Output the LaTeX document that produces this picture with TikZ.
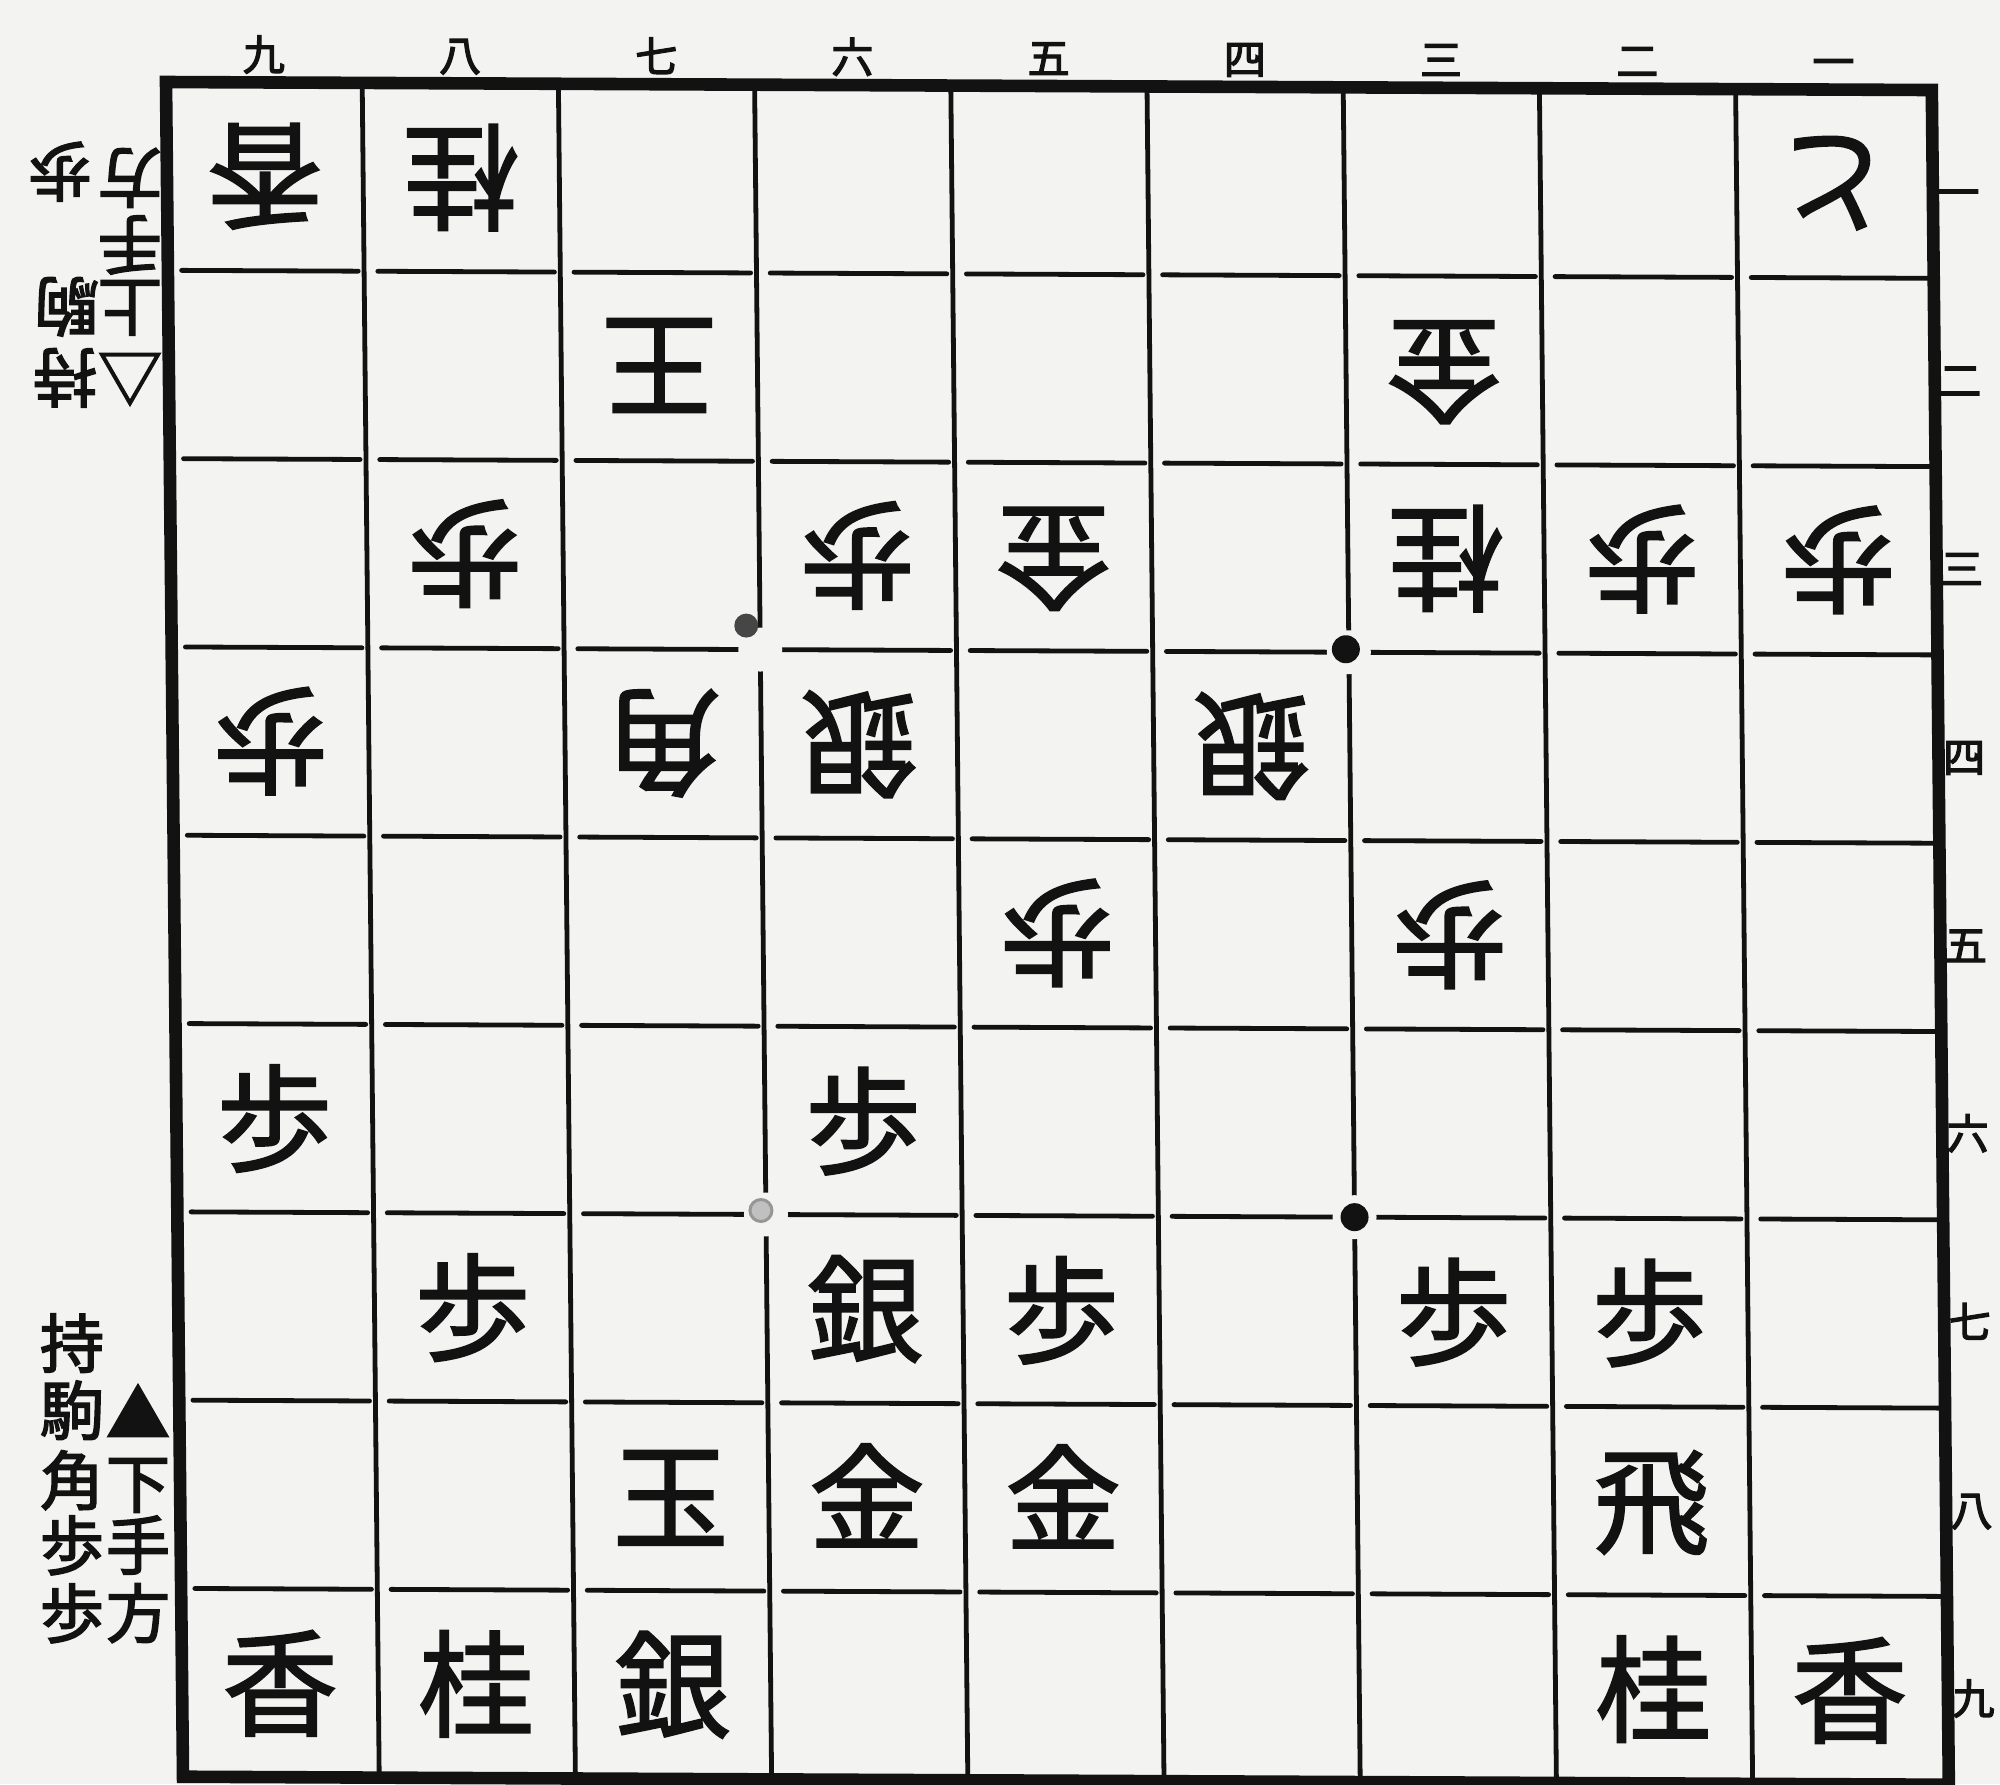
\documentclass[tikz,border=0pt]{standalone}
\usepackage{fontspec}
\newfontfamily\jp[RawFeature={embolden=1.6}]{Noto Sans CJK JP}
\newfontfamily\jplab[RawFeature={embolden=3}]{Noto Sans CJK JP}
\newfontfamily\jpside[RawFeature={embolden=2.6}]{Noto Sans CJK JP}
\definecolor{bg}{RGB}{243,243,241}
\definecolor{ink}{RGB}{18,18,18}
\definecolor{dotgray}{RGB}{70,70,70}
\definecolor{ringgray}{RGB}{150,150,150}
\tikzset{
  piece/.style={font=\jp\fontsize{58}{58}\selectfont, inner sep=0pt, text height=51pt, text depth=7pt, text=ink},
  gote/.style={piece, rotate=180},
  coordlabel/.style={font=\jplab\fontsize{21}{21}\selectfont, inner sep=0pt, text height=18.5pt, text depth=2.5pt, text=ink},
  sidelabel/.style={font=\jpside\fontsize{32}{32}\selectfont, inner sep=0pt, text height=28.2pt, text depth=3.8pt, text=ink},
  sidegote/.style={sidelabel, rotate=180},
  gridline/.style={draw=ink, line width=2.4pt, line cap=round},
  frameline/.style={draw=ink, line width=6.3pt, line join=miter},
}
\begin{document}
\begin{tikzpicture}[x=0.5pt,y=-0.5pt]
\fill[bg] (0,0) rectangle (2000,1784);
\useasboundingbox (0,0) rectangle (2000,1784);
\begin{scope}[shift={(83pt,-41pt)}, x={(98.1pt,-0.445pt)}, y={(0.945pt,-94.15pt)}]
  % grid
  \foreach \c in {1,...,8} \draw[gridline] (\c,0) -- (\c,9);
  \foreach \r in {1,...,8} \foreach \c in {0,...,8} \draw[gridline] ({\c+0.07},\r) -- ({\c+0.97},\r);
  \draw[frameline] (0,0) -- (9,0) -- (9,9) -- (0,9) -- cycle;
  % star points
  \coordinate (d1) at (3,3);
  \coordinate (d2) at (6,3);
  \coordinate (d3) at (3,6);
  \coordinate (d4) at (6,6);
  \foreach \d in {d1,d2,d3,d4} \fill[bg] (\d) circle (11pt);
  \fill[dotgray] ([shift={(-7pt,12pt)}]d1) circle (6pt);
  \fill[ink] ([shift={(-1.5pt,1.5pt)}]d2) circle (7pt);
  \filldraw[fill=ringgray!60, draw=ringgray, line width=1.5pt] ([shift={(-2.5pt,2pt)}]d3) circle (5.5pt);
  \fill[ink] (d4) circle (7pt);
  % column labels
  \foreach \t [count=\i] in {九,八,七,六,五,四,三,二,一}
    \node[coordlabel] (col\i) at ({\i-0.5},-0.15) {\t};
  % row labels
  \foreach \t [count=\i] in {一,二,三,四,五,六,七,八,九}
    \node[coordlabel] (row\i) at (9.13,{\i-0.46}) {\t};
  % gote pieces (inverted)
  \foreach \n/\m/\t [count=\i] in {9/1/香,8/1/桂,1/1/と,7/2/王,3/2/金,8/3/歩,6/3/歩,5/3/金,3/3/桂,2/3/歩,1/3/歩,9/4/歩,7/4/角,6/4/銀,4/4/銀,5/5/歩,3/5/歩}
    \node[gote] (g\i) at ({9.5-\n},{\m-0.5}) {\t};
  % sente pieces
  \foreach \n/\m/\t [count=\i] in {9/6/歩,6/6/歩,8/7/歩,6/7/銀,5/7/歩,3/7/歩,2/7/歩,7/8/玉,6/8/金,5/8/金,2/8/飛,9/9/香,8/9/桂,7/9/銀,2/9/桂,1/9/香}
    \node[piece] (s\i) at ({9.5-\n},{\m-0.5}) {\t};
\end{scope}
% pieces in hand, upper side (inverted)
\node[sidegote] (u1) at (60,172) {歩};
\node[sidegote] (u2) at (130,178) {方};
\node[sidegote] (u3) at (130,245) {手};
\node[sidegote] (u4) at (130,307) {上};
\node[sidegote] (u5) at (67,307) {駒};
\node[sidegote] (u6) at (130,377) {△};
\node[sidegote] (u7) at (65,378) {持};
% pieces in hand, lower side
\node[sidelabel] (b1) at (72,1343) {持};
\node[sidelabel] (b2) at (72,1410) {駒};
\node[sidelabel] (b3) at (72,1480) {角};
\node[sidelabel] (b4) at (72,1545) {歩};
\node[sidelabel] (b5) at (72,1613) {歩};
\node[sidelabel] (b6) at (138,1413) {▲};
\node[sidelabel] (b7) at (138,1483) {下};
\node[sidelabel] (b8) at (138,1545) {手};
\node[sidelabel] (b9) at (138,1613) {方};
\end{tikzpicture}
\end{document}
